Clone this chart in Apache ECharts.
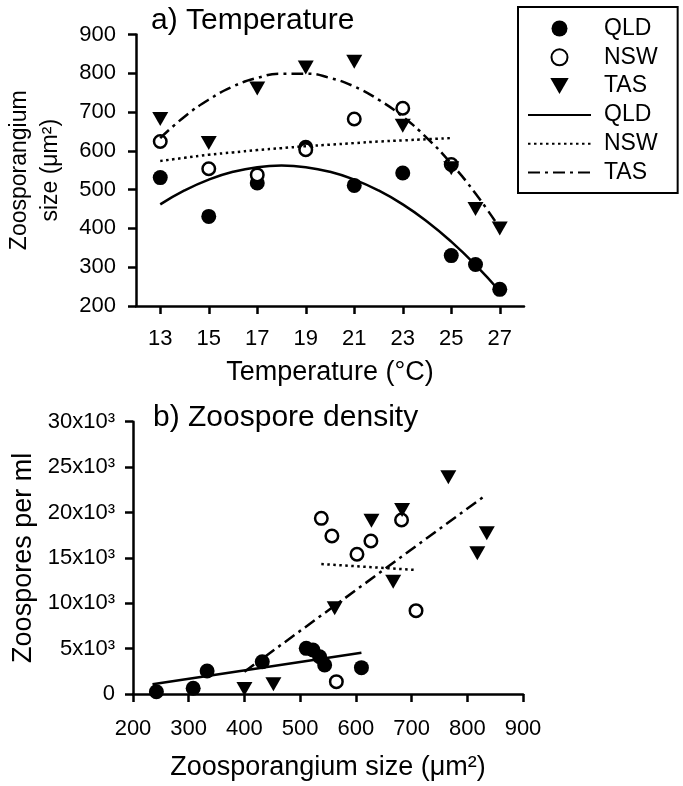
<!DOCTYPE html>
<html><head><meta charset="utf-8">
<script src="https://cdn.jsdelivr.net/npm/echarts@6/dist/echarts.min.js"></script>
<style>html,body{margin:0;padding:0;background:#fff}#c{width:683px;height:786px}</style>
</head><body><div id="c"></div>
<script>
// ---- Panel a) Temperature ----
const temps = [13, 15, 17, 19, 21, 23, 25, 26, 27];
const qldSizeByTemp = [531, 431, 517, 609, 511, 543, 330, 307, 243];
const nswTemps = [13, 15, 17, 19, 21, 23, 25];
const nswSizeByTemp = [624, 554, 538, 603, 682, 710, 565];
const tasSizeByTemp = [682, 620, 761, 815, 830, 665, 555, 450, 400];
const tempTicks = [13, 15, 17, 19, 21, 23, 25, 27];
// fitted curves
const fitTemps = [13, 14, 15, 16, 17, 18, 19, 20, 21, 22, 23, 24, 25, 26, 27];
const qldFitA = [462, 498, 526, 546, 558, 562, 558, 546, 526, 498, 462, 418, 366, 306, 238];
const nswFitTemps = [13, 14, 15, 16, 17, 18, 19, 20, 21, 22, 23, 24, 25];
const nswFitA = [574, 582, 590, 596, 602, 607, 612, 616, 620, 624, 627, 630, 633];
const tasFitA = [633, 688, 732, 766, 788, 799, 799, 788, 766, 732, 688, 633, 567, 490, 401];

// ---- Panel b) Zoospore density ----
const qldB = [[242, 250], [308, 630], [333, 2530], [432, 3560], [511, 5030], [523, 4850], [535, 4110], [544, 3200], [610, 2900]];
const nswB = [[538, 19350], [557, 17400], [602, 15390], [627, 16860], [682, 19170], [708, 9180], [565, 1360]];
const tasB = [[400, 550], [452, 1070], [562, 9440], [628, 19100], [683, 20270], [667, 12370], [766, 23870], [835, 17700], [818, 15500]];
const qldFitB = [[235, 1070], [610, 4550]];
const nswFitB = [[538, 14320], [708, 13660]];
const tasFitB = [[400, 2460], [831, 21810]];
const densityLabels = ['0', '5x10³', '10x10³', '15x10³', '20x10³', '25x10³', '30x10³'];

const FONT = 'Liberation Sans, Arial, Helvetica, sans-serif';
const tri = 'path://M0,0 L10,0 L5,8.7 Z';
const zip = (xs, ys) => xs.map((x, i) => [x, ys[i]]);

const axisCommon = {
  axisLine: { lineStyle: { color: '#000', width: 2.5 } },
  axisTick: { show: true, inside: false, length: 8, lineStyle: { color: '#000', width: 2.5 } },
  axisLabel: { color: '#000', fontFamily: FONT, fontSize: 22 },
  splitLine: { show: false },
  nameTextStyle: { color: '#000', fontFamily: FONT, fontSize: 27 }
};
function ax(extra) { return echarts.util.merge(echarts.util.clone(axisCommon), extra, true); }

const filled = { color: '#000', opacity: 1 };
const open = { color: '#fff', borderColor: '#000', borderWidth: 2.5, opacity: 1 };
const noSym = { color: 'rgba(0,0,0,0)', borderColor: 'rgba(0,0,0,0)', borderWidth: 0, opacity: 0 };

const chart = echarts.init(document.getElementById('c'), null, { renderer: 'canvas' });
chart.setOption({
  animation: false,
  backgroundColor: '#fff',
  textStyle: { fontFamily: FONT },
  title: [
    { text: 'a) Temperature', left: 146, top: 1, textStyle: { fontFamily: FONT, fontSize: 30, fontWeight: 'normal', color: '#000' } },
    { text: 'b) Zoospore density', left: 148, top: 398, textStyle: { fontFamily: FONT, fontSize: 30, fontWeight: 'normal', color: '#000' } }
  ],
  grid: [
    { left: 136, right: 159, top: 34.5, height: 271.5, containLabel: false, outerBoundsMode: 'none' },
    { left: 133, right: 160, top: 421.7, height: 272.3, containLabel: false, outerBoundsMode: 'none' }
  ],
  xAxis: [
    ax({ gridIndex: 0, type: 'value', min: 12, max: 28, interval: 1,
      axisTick: { customValues: tempTicks },
      axisLabel: { customValues: tempTicks, margin: 22 },
      name: 'Temperature (°C)', nameLocation: 'middle', nameGap: 53 }),
    ax({ gridIndex: 1, type: 'value', min: 200, max: 900, interval: 100,
      axisLabel: { margin: 24 },
      name: 'Zoosporangium size (μm²)', nameLocation: 'middle', nameGap: 60 })
  ],
  yAxis: [
    ax({ gridIndex: 0, type: 'value', min: 200, max: 900, interval: 100,
      axisLabel: { margin: 20 },
      name: 'Zoosporangium\nsize (μm²)', nameLocation: 'middle', nameGap: 70,
      nameTextStyle: { fontSize: 23, lineHeight: 31 } }),
    ax({ gridIndex: 1, type: 'value', min: 0, max: 30000, interval: 5000,
      axisLabel: { margin: 18, formatter: (v) => densityLabels[Math.round(v / 5000)] },
      name: 'Zoospores per ml', nameLocation: 'middle', nameGap: 96 })
  ],
  legend: {
    orient: 'vertical', left: 518, top: 7,
    padding: [10, 20, 9, 9], itemGap: 5.8,
    itemWidth: 63, itemHeight: 16,
    borderColor: '#000', borderWidth: 2, borderRadius: 0,
    textStyle: { color: '#000', fontFamily: FONT, fontSize: 23, width: 54, padding: [0, 0, 0, 8] },
    formatter: (n) => n.replace(' fit', ''),
    data: ['QLD', 'NSW', 'TAS',
      { name: 'QLD fit', itemStyle: noSym },
      { name: 'NSW fit', itemStyle: noSym },
      { name: 'TAS fit', itemStyle: noSym }]
  },
  series: [
    { name: 'QLD', type: 'scatter', xAxisIndex: 0, yAxisIndex: 0, symbol: 'circle', symbolSize: 15, itemStyle: filled, data: zip(temps, qldSizeByTemp), z: 2 },
    { name: 'NSW', type: 'scatter', xAxisIndex: 0, yAxisIndex: 0, symbol: 'circle', symbolSize: 12.5, itemStyle: open, data: zip(nswTemps, nswSizeByTemp), z: 2 },
    { name: 'TAS', type: 'scatter', xAxisIndex: 0, yAxisIndex: 0, symbol: tri, symbolSize: [16, 14], itemStyle: filled, data: zip(temps, tasSizeByTemp), z: 2 },
    { name: 'QLD fit', type: 'line', xAxisIndex: 0, yAxisIndex: 0, symbol: 'none', smooth: true, lineStyle: { color: '#000', width: 2.5, type: 'solid' }, itemStyle: { color: '#000' }, data: zip(fitTemps, qldFitA), z: 3 },
    { name: 'NSW fit', type: 'line', xAxisIndex: 0, yAxisIndex: 0, symbol: 'none', smooth: true, lineStyle: { color: '#000', width: 2.5, type: [2.5, 3.5] }, itemStyle: { color: '#000' }, data: zip(nswFitTemps, nswFitA), z: 3 },
    { name: 'TAS fit', type: 'line', xAxisIndex: 0, yAxisIndex: 0, symbol: 'none', smooth: true, lineStyle: { color: '#000', width: 2.5, type: [12, 5, 3, 5] }, itemStyle: { color: '#000' }, data: zip(fitTemps, tasFitA), z: 3 },

    { name: 'QLD', type: 'scatter', xAxisIndex: 1, yAxisIndex: 1, symbol: 'circle', symbolSize: 15, itemStyle: filled, data: qldB, z: 2 },
    { name: 'NSW', type: 'scatter', xAxisIndex: 1, yAxisIndex: 1, symbol: 'circle', symbolSize: 12.5, itemStyle: open, data: nswB, z: 2 },
    { name: 'TAS', type: 'scatter', xAxisIndex: 1, yAxisIndex: 1, symbol: tri, symbolSize: [16, 14], itemStyle: filled, data: tasB, z: 2 },
    { name: 'QLD fit', type: 'line', xAxisIndex: 1, yAxisIndex: 1, symbol: 'none', lineStyle: { color: '#000', width: 2.5, type: 'solid' }, itemStyle: { color: '#000' }, data: qldFitB, z: 3 },
    { name: 'NSW fit', type: 'line', xAxisIndex: 1, yAxisIndex: 1, symbol: 'none', lineStyle: { color: '#000', width: 2.5, type: [2.5, 3.5] }, itemStyle: { color: '#000' }, data: nswFitB, z: 3 },
    { name: 'TAS fit', type: 'line', xAxisIndex: 1, yAxisIndex: 1, symbol: 'none', lineStyle: { color: '#000', width: 2.5, type: [12, 5, 3, 5] }, itemStyle: { color: '#000' }, data: tasFitB, z: 3 }
  ]
});
</script></body></html>
